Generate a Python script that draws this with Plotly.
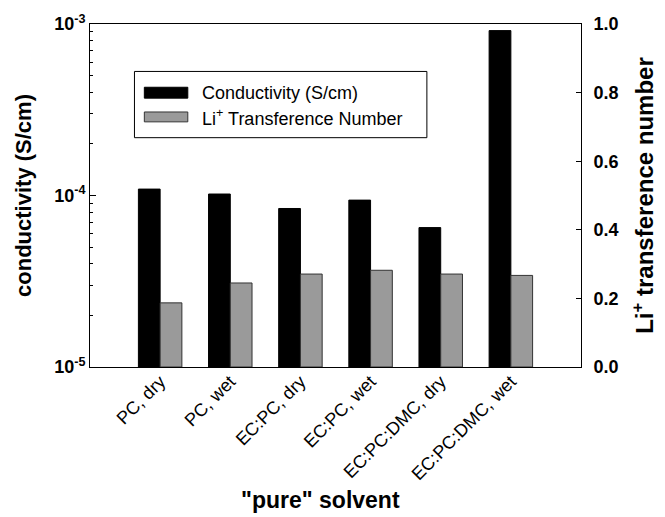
import plotly.graph_objects as go

categories = ["PC, dry", "PC, wet", "EC:PC, dry", "EC:PC, wet", "EC:PC:DMC, dry", "EC:PC:DMC, wet"]
conductivity = [1.09e-4, 1.02e-4, 8.4e-5, 9.4e-5, 6.5e-5, 9.15e-4]
transference = [0.187, 0.245, 0.271, 0.282, 0.271, 0.267]
cond_name = "Conductivity (S/cm)"
trans_name = "Li<sup>+</sup> Transference Number"
left_tickvals = [1e-5, 1e-4, 1e-3]
left_ticktext = ["10<sup>-5</sup>", "10<sup>-4</sup>", "10<sup>-3</sup>"]
left_minor = [m * 10.0 ** e for e in (-5, -4) for m in range(2, 10)]
right_tickvals = [0.0, 0.2, 0.4, 0.6, 0.8, 1.0]
right_ticktext = ["0.0", "0.2", "0.4", "0.6", "0.8", "1.0"]

xpos = list(range(1, len(categories) + 1))
FONT = "Liberation Sans, Arial, sans-serif"
W, H = 665, 517
L, R, T, B = 90, 78, 20, 150
pw, ph = W - L - R, H - T - B

def px(x):
    return (x - L) / pw

def py(y):
    return (H - B - y) / ph

fig = go.Figure()
fig.add_trace(go.Bar(x=xpos, y=conductivity, name=cond_name, width=0.31, offset=-0.31,
                     marker=dict(color="#000000", line=dict(color="#000000", width=1)),
                     yaxis="y", showlegend=False))
fig.add_trace(go.Bar(x=xpos, y=transference, name=trans_name, width=0.31, offset=0.0,
                     marker=dict(color="#9a9a9a", line=dict(color="#333333", width=1)),
                     yaxis="y2", showlegend=False))

fig.update_layout(
    width=W, height=H,
    margin=dict(l=L, r=R, t=T, b=B, pad=0),
    paper_bgcolor="white", plot_bgcolor="white",
    font=dict(family=FONT, color="black"),
    barmode="overlay",
    xaxis=dict(range=[0, 7], tickvals=xpos, ticktext=categories, tickangle=-45,
               tickfont=dict(size=18), showgrid=False, zeroline=False, ticklabelstandoff=-4,
               showline=True, linecolor="black", linewidth=1, mirror=True, ticks=""),
    yaxis=dict(type="log", range=[-5, -3], tickvals=left_tickvals, ticktext=left_ticktext,
               tickfont=dict(size=18, weight="bold"), ticks="inside", ticklen=6, tickcolor="black",
               minor=dict(tickvals=left_minor, ticks="inside", ticklen=3, tickcolor="black", showgrid=False),
               showgrid=False, zeroline=False, showline=True, linecolor="black", linewidth=1,
               title=dict(text="conductivity (S/cm)", font=dict(size=22, weight="bold"), standoff=16)),
    yaxis2=dict(overlaying="y", side="right", range=[0, 1], tickvals=right_tickvals, ticktext=right_ticktext,
                tickfont=dict(size=18, weight="bold"), ticks="inside", ticklen=5, tickcolor="black",
                ticklabelstandoff=8,
                showgrid=False, zeroline=False, showline=True, linecolor="black", linewidth=1,
                title=dict(text="Li<sup>+</sup> transference number", font=dict(size=24, weight="bold"), standoff=18)),
)

fig.add_annotation(text="\"pure\" solvent", x=px(323), y=py(502), xref="paper", yref="paper",
                   showarrow=False, font=dict(size=23, weight="bold"), xanchor="center", yanchor="middle")

# legend box drawn manually
fig.add_shape(type="rect", xref="paper", yref="paper", x0=px(135), x1=px(431), y0=py(135), y1=py(68),
              line=dict(color="black", width=1), fillcolor="white")
fig.add_shape(type="rect", xref="paper", yref="paper", x0=px(145), x1=px(189), y0=py(95), y1=py(84),
              line=dict(color="black", width=1), fillcolor="#000000")
fig.add_shape(type="rect", xref="paper", yref="paper", x0=px(145), x1=px(189), y0=py(119), y1=py(109),
              line=dict(color="#333333", width=1), fillcolor="#9a9a9a")
fig.add_annotation(text=cond_name, x=px(201), y=py(90), xref="paper", yref="paper", showarrow=False,
                   xanchor="left", yanchor="middle", font=dict(size=18))
fig.add_annotation(text=trans_name, x=px(201), y=py(115), xref="paper", yref="paper", showarrow=False,
                   xanchor="left", yanchor="middle", font=dict(size=18))

fig.write_html("out.html")
